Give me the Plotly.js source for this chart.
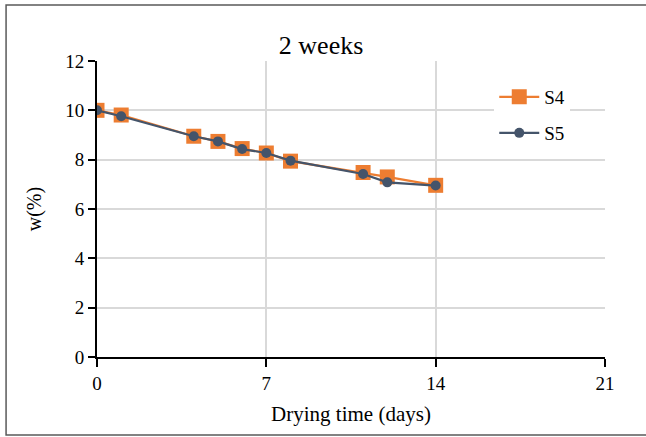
<!DOCTYPE html>
<html><head><meta charset="utf-8">
<script src="https://cdn.plot.ly/plotly-3.0.1.min.js"></script>
<style>html,body{margin:0;padding:0;background:#fff}#c{width:646px;height:437px}</style>
</head><body><div id="c"></div>
<script>
const days = [0, 1, 4, 5, 6, 7, 8, 11, 12, 14];
const s4 = [10.0, 9.81, 8.95, 8.74, 8.45, 8.27, 7.94, 7.48, 7.30, 6.96];
const s5 = [10.0, 9.76, 8.95, 8.74, 8.43, 8.27, 7.96, 7.42, 7.08, 6.95];
const xTicks = [0, 7, 14, 21];
const yTicks = [0, 2, 4, 6, 8, 10, 12];
const font = 'Liberation Serif';
const traces = [
  {x: days, y: s4, name: 'S4', mode: 'lines+markers', type: 'scatter', legend: 'legend',
   line: {color: '#ED7D31', width: 2.2}, marker: {symbol: 'square', size: 15, color: '#ED7D31'}},
  {x: days, y: s5, name: 'S5', mode: 'lines+markers', type: 'scatter', legend: 'legend2',
   line: {color: '#44546A', width: 2.2}, marker: {symbol: 'circle', size: 10, color: '#44546A'}}
];
const legCommon = {xanchor: 'left', yanchor: 'middle', bgcolor: 'rgba(255,255,255,1)', font: {family: font, size: 19, color: '#000'}, itemwidth: 40};
const layout = {
  width: 646, height: 437,
  margin: {l: 97, r: 41, t: 61, b: 80},
  paper_bgcolor: '#fff', plot_bgcolor: '#fff',
  font: {family: font, size: 19, color: '#000'},
  title: {text: '2 weeks', x: 0.497, xanchor: 'center', y: 0.897, yanchor: 'middle', font: {family: font, size: 26, color: '#000'}},
  xaxis: {range: [0, 21], tickvals: xTicks, ticktext: xTicks.map(String), showgrid: true, gridcolor: '#d9d9d9', gridwidth: 1.8,
          showline: true, linecolor: '#000', linewidth: 2, ticks: 'outside', ticklen: 8, tickcolor: '#000000', tickwidth: 2,
          zeroline: false, showticklabels: true, tickfont: {family: font, size: 19},
          title: {text: 'Drying time (days)', font: {family: font, size: 21}, standoff: 14}},
  yaxis: {range: [0, 12], tickvals: yTicks, ticktext: yTicks.map(String), showgrid: true, gridcolor: '#d9d9d9', gridwidth: 1.8,
          showline: true, linecolor: '#000', linewidth: 2, ticks: 'outside', ticklen: 7, tickcolor: '#000000', tickwidth: 2,
          zeroline: false, showticklabels: true, tickfont: {family: font, size: 19},
          title: {text: 'w(%)', font: {family: font, size: 20}, standoff: 18}},
  legend: Object.assign({x: 0.782, y: (357 - 97) / 296}, legCommon),
  legend2: Object.assign({x: 0.782, y: (357 - 133) / 296}, legCommon),
  shapes: [{type: 'rect', xref: 'paper', yref: 'paper', x0: -0.179, x1: 1.09, y0: -0.2635, y1: 1.189,
            line: {color: '#595959', width: 1.5}, fillcolor: 'rgba(0,0,0,0)', layer: 'below'}],
  showlegend: true
};
Plotly.newPlot('c', traces, layout, {displayModeBar: false, staticPlot: true});
</script></body></html>
